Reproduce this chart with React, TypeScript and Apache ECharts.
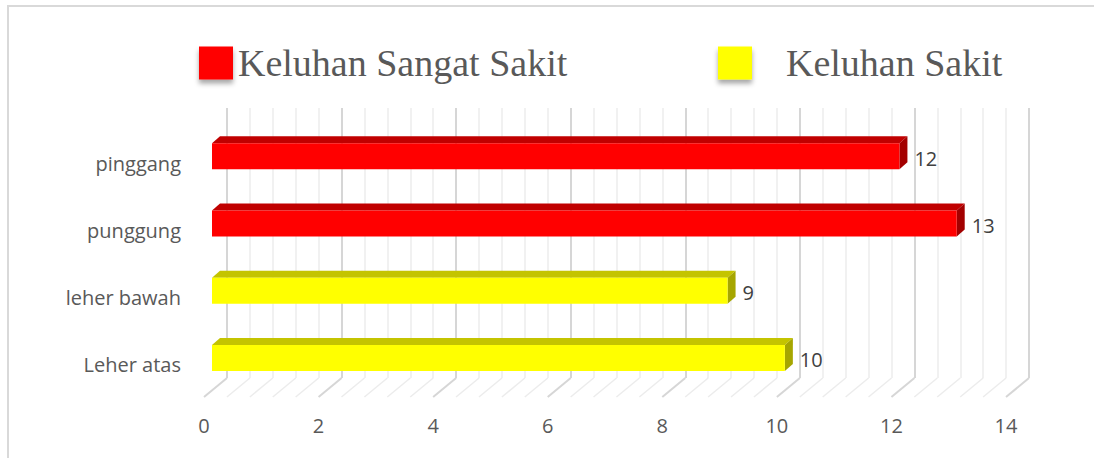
import React, { useEffect, useRef } from "react";
import * as echarts from "echarts";

const categories = ["Leher atas", "leher bawah", "punggung", "pinggang"];
const sangatSakit: (number | null)[] = [null, null, 13, 12];
const sakit: (number | null)[] = [10, 9, null, null];
const seriesNames = ["Keluhan Sangat Sakit", "Keluhan Sakit"];
const AXIS_MIN = 0;
const AXIS_MAX = 14;
const MAJOR_STEP = 2;
const MINOR_SPLITS = 5;

const FONT = "Open Sans";

function toData(vals: (number | null)[]) {
  const out: [number, number][] = [];
  vals.forEach((v, i) => {
    if (v !== null) out.push([v, i]);
  });
  return out;
}

function makeBarRender(front: string, top: string, side: string) {
  return (params: any, api: any) => {
    const v = api.value(0);
    const ci = api.value(1);
    const p0 = api.coord([0, ci]);
    const p1 = api.coord([v, ci]);
    const h = 26;
    const dx = 8;
    const dy = 7;
    const x0 = p0[0];
    const x1 = p1[0];
    const yt = p0[1] - h / 2;
    const yb = p0[1] + h / 2;
    return {
      type: "group",
      children: [
        {
          type: "polygon",
          shape: { points: [[x0, yt], [x0 + dx, yt - dy], [x1 + dx, yt - dy], [x1, yt]] },
          style: { fill: top },
        },
        {
          type: "polygon",
          shape: { points: [[x1, yt], [x1 + dx, yt - dy], [x1 + dx, yb - dy], [x1, yb]] },
          style: { fill: side },
        },
        {
          type: "rect",
          shape: { x: x0, y: yt, width: x1 - x0, height: h },
          style: { fill: front },
        },
        {
          type: "text",
          x: x1 + dx + 7,
          y: p0[1] + 2,
          style: {
            text: String(v),
            fill: "#404040",
            font: `20px "${FONT}"`,
            verticalAlign: "middle",
            align: "left",
          },
        },
      ],
    };
  };
}

export default function App() {
  const ref = useRef<HTMLDivElement>(null);
  useEffect(() => {
    if (!ref.current) return;
    const chart = echarts.init(ref.current, null, { renderer: "svg" });

    const ticks: [number, number][] = [];
    const step = MAJOR_STEP / MINOR_SPLITS;
    for (let i = 0; i <= ((AXIS_MAX - AXIS_MIN) / step); i++) {
      const v = AXIS_MIN + i * step;
      ticks.push([v, i % MINOR_SPLITS === 0 ? 1 : 0]);
    }

    const legendText = {
      fontFamily: "Liberation Serif",
      fontSize: 38,
      color: "#595959",
    };

    const option: any = {
      animation: false,
      backgroundColor: "#ffffff",
      graphic: [
        {
          type: "rect",
          shape: { x: 8, y: 6, width: 1200, height: 600 },
          style: { fill: "none", stroke: "#D9D9D9", lineWidth: 2 },
          silent: true,
        },
      ],
      legend: [
        {
          left: 199,
          top: 44,
          padding: 0,
          itemWidth: 34,
          itemHeight: 33,
          icon: "rect",
          data: [seriesNames[0]],
          textStyle: { ...legendText, padding: [0, 0, 11, 0] },
          itemStyle: { shadowColor: "rgba(0,0,0,0.35)", shadowBlur: 5, shadowOffsetY: 4 },
        },
        {
          left: 718,
          top: 44,
          padding: 0,
          itemWidth: 34,
          itemHeight: 33,
          icon: "rect",
          data: [seriesNames[1]],
          textStyle: { ...legendText, padding: [0, 0, 11, 29] },
          itemStyle: { shadowColor: "rgba(0,0,0,0.35)", shadowBlur: 5, shadowOffsetY: 4 },
        },
      ],
      grid: [
        { left: 204, width: 802, top: 378, height: 19 },
        { left: 212, width: 802, top: 122.5, height: 269 },
        { left: 227, width: 802, top: 108, height: 270 },
        { left: 212, width: 802, top: 129.5, height: 269 },
      ],
      xAxis: [
        {
          gridIndex: 0,
          type: "value",
          min: AXIS_MIN,
          max: AXIS_MAX,
          interval: MAJOR_STEP,
          axisLine: { show: false },
          axisTick: { show: false },
          splitLine: { show: false },
          axisLabel: { margin: 18, fontSize: 20, color: "#595959", fontFamily: FONT },
        },
        {
          gridIndex: 1,
          type: "value",
          min: AXIS_MIN,
          max: AXIS_MAX,
          show: false,
        },
        {
          gridIndex: 2,
          type: "value",
          min: AXIS_MIN,
          max: AXIS_MAX,
          interval: MAJOR_STEP,
          axisLine: { show: false },
          axisTick: { show: false },
          axisLabel: { show: false },
          splitLine: { show: true, lineStyle: { color: "#D6D6D6", width: 2 } },
          minorTick: { show: false, splitNumber: MINOR_SPLITS },
          minorSplitLine: { show: true, lineStyle: { color: "#ECECEC", width: 1.5 } },
        },
        {
          gridIndex: 3,
          type: "value",
          min: AXIS_MIN,
          max: AXIS_MAX,
          show: false,
        },
      ],
      yAxis: [
        { gridIndex: 0, type: "value", min: 0, max: 1, show: false },
        {
          gridIndex: 1,
          type: "category",
          data: categories,
          axisLine: { show: false },
          axisTick: { show: false },
          axisLabel: { show: false },
        },
        { gridIndex: 2, type: "value", min: 0, max: 1, show: false },
        {
          gridIndex: 3,
          type: "category",
          data: categories,
          axisLine: { show: false },
          axisTick: { show: false },
          axisLabel: {
            margin: 31,
            fontSize: 20,
            color: "#595959",
            fontFamily: FONT,
          },
        },
      ],
      series: [
        {
          type: "custom",
          name: "floor",
          xAxisIndex: 0,
          yAxisIndex: 0,
          silent: true,
          z: 1,
          data: ticks,
          renderItem: (params: any, api: any) => {
            const v = api.value(0);
            const major = api.value(1) === 1;
            const f = api.coord([v, 0]);
            const b = api.coord([v, 1]);
            return {
              type: "line",
              shape: { x1: f[0], y1: f[1], x2: f[0] + 23, y2: b[1] },
              style: { stroke: major ? "#D6D6D6" : "#ECECEC", lineWidth: major ? 2 : 1.5 },
            };
          },
        },
        {
          type: "custom",
          name: seriesNames[0],
          xAxisIndex: 1,
          yAxisIndex: 1,
          z: 5,
          itemStyle: { color: "#FF0000" },
          data: toData(sangatSakit),
          renderItem: makeBarRender("#FF0000", "#C00000", "#A30000"),
        },
        {
          type: "custom",
          name: seriesNames[1],
          xAxisIndex: 1,
          yAxisIndex: 1,
          z: 5,
          itemStyle: { color: "#FFFF00" },
          data: toData(sakit),
          renderItem: makeBarRender("#FFFF00", "#C4C400", "#A6A600"),
        },
      ],
    };
    chart.setOption(option);
    return () => chart.dispose();
  }, []);
  return (
    <div
      ref={ref}
      style={{ position: "absolute", left: 0, top: 0, width: 1094, height: 458 }}
    />
  );
}
